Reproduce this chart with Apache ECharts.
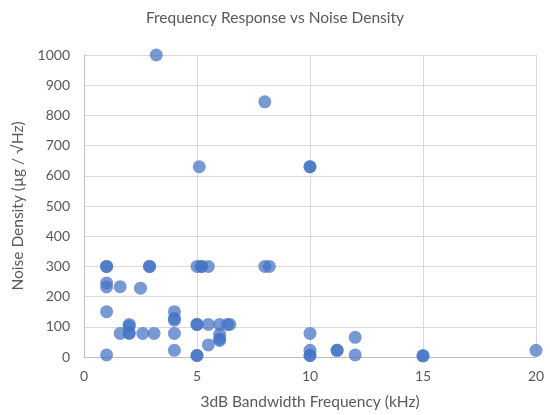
<!DOCTYPE html>
<html><head><meta charset="utf-8">
<script src="https://cdn.jsdelivr.net/npm/echarts@6/dist/echarts.min.js"></script>
<style>html,body{margin:0;padding:0;background:#fff}#c{width:550px;height:415px}</style>
</head><body><div id="c"></div>
<script>
const title = "Frequency Response vs Noise Density";
const xName = "3dB Bandwidth Frequency (kHz)";
const yName = "Noise Density (\u00b5g / \u221aHz)";
const freqKHz = [3.2, 8.0, 5.1, 10, 10,
  1, 1, 2.9, 2.9, 5.0, 5.2, 5.2, 5.5, 8.0, 8.2,
  1, 1, 1.6, 2.5, 1, 4, 4, 4,
  2, 2, 5, 5, 5.5, 6, 6.35, 6.45,
  1.6, 2, 2, 2.6, 3.1, 4, 6, 6, 6,
  5.5, 4, 5, 5, 1,
  10, 10, 10, 10, 11.2, 11.2, 12, 12, 15, 15, 20];
const noiseDensity = [1000, 845, 630, 630, 630,
  300, 300, 300, 300, 300, 300, 300, 300, 300, 300,
  245, 232, 233, 228, 150, 150, 128, 122,
  108, 102, 108, 108, 108, 108, 108, 108,
  78, 78, 80, 78, 78, 78, 75, 60, 55,
  40, 22, 5, 5, 7,
  78, 22, 5, 5, 22, 22, 65, 7, 4, 4, 22];
const xTicks = {min: 0, max: 20, interval: 5};
const yTicks = {min: 0, max: 1000, interval: 100};

const data = freqKHz.map((x, i) => [x, noiseDensity[i]]);
const chart = echarts.init(document.getElementById('c'), null, {renderer: 'canvas'});
const txt = '#595959';
const font = 'Lato, "Open Sans", sans-serif';
chart.setOption({
  animation: false,
  backgroundColor: '#fff',
  title: {text: title, left: 'center', top: 5,
    textStyle: {color: txt, fontSize: 15.5, fontWeight: 'normal', fontFamily: font}},
  grid: {left: 84, right: 14, top: 55, bottom: 57, containLabel: false},
  xAxis: {type: 'value', min: xTicks.min, max: xTicks.max, interval: xTicks.interval,
    name: xName, nameLocation: 'middle', nameGap: 37,
    nameTextStyle: {color: txt, fontSize: 15.5, fontFamily: font},
    axisLine: {show: true, lineStyle: {color: '#bfbfbf', width: 1}},
    axisTick: {show: false},
    axisLabel: {color: txt, fontSize: 14, fontFamily: font, margin: 12},
    splitLine: {show: true, lineStyle: {color: '#d9d9d9', width: 1}}},
  yAxis: {type: 'value', min: yTicks.min, max: yTicks.max, interval: yTicks.interval,
    name: yName, nameLocation: 'middle', nameGap: 58, nameRotate: 90,
    nameTextStyle: {color: txt, fontSize: 15.5, fontFamily: font},
    axisLine: {show: true, lineStyle: {color: '#bfbfbf', width: 1}},
    axisTick: {show: false},
    axisLabel: {color: txt, fontSize: 14, fontFamily: font, margin: 14,
      formatter: v => String(v)},
    splitLine: {show: true, lineStyle: {color: '#d9d9d9', width: 1}}},
  series: [{type: 'scatter', data: data, symbol: 'circle', symbolSize: 13,
    itemStyle: {color: '#4472C4', opacity: 0.72}}]
});
</script></body></html>
